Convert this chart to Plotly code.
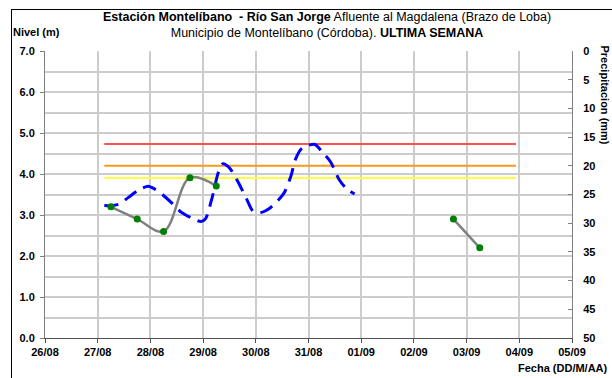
import plotly.graph_objects as go

# ---- data ----
obs_time = ["2023-08-27 06:00", "2023-08-27 18:00", "2023-08-28 06:00", "2023-08-28 18:00",
            "2023-08-29 06:00", "2023-08-31 00:00", "2023-09-02 18:00", "2023-09-03 06:00"]
obs_level = [3.20, 2.90, 2.60, 3.91, 3.71, None, 2.90, 2.20]

sensor_time = ["2023-08-27 03:00", "2023-08-27 06:00", "2023-08-27 10:00", "2023-08-27 14:00",
               "2023-08-27 19:00", "2023-08-27 23:00", "2023-08-28 01:00", "2023-08-28 05:00",
               "2023-08-28 10:00", "2023-08-28 14:00", "2023-08-28 19:00", "2023-08-28 23:00",
               "2023-08-29 01:00", "2023-08-29 04:00", "2023-08-29 07:00", "2023-08-29 09:00",
               "2023-08-29 12:00", "2023-08-29 16:00", "2023-08-29 20:00", "2023-08-29 23:00",
               "2023-08-30 03:00", "2023-08-30 06:00", "2023-08-30 10:00", "2023-08-30 13:00",
               "2023-08-30 16:00", "2023-08-30 18:00", "2023-08-30 21:00", "2023-08-31 00:00",
               "2023-08-31 03:00", "2023-08-31 06:00", "2023-08-31 10:00", "2023-08-31 14:00",
               "2023-08-31 17:00", "2023-08-31 21:00"]
sensor_level = [3.23, 3.23, 3.27, 3.43, 3.62, 3.70, 3.66, 3.52,
                3.28, 3.07, 2.92, 2.84, 2.90, 3.40, 4.05, 4.25,
                4.15, 3.80, 3.37, 3.08, 3.07, 3.15, 3.35, 3.55,
                3.95, 4.35, 4.63, 4.70, 4.72, 4.55, 4.30, 3.86,
                3.66, 3.51]

threshold_time = ["2023-08-27 03:00", "2023-09-03 22:30"]
threshold_red = 4.73
threshold_orange = 4.20
threshold_yellow = 3.90

x_range = ["2023-08-26", "2023-09-05"]
level_range = [0, 7]
precip_range = [50, 0]

# ---- layout geometry (px) ----
W, H = 612, 378
L, R, T, B = 45, 40, 51, 40
pw, ph = W - L - R, H - T - B

def px2x(px):
    return (px - L) / pw

def py2y(py):
    return (H - B - py) / ph

FONT = "Liberation Sans, Arial, sans-serif"

fig = go.Figure()

for val, col in [(threshold_red, "#FF5050"), (threshold_orange, "#F79A1E"), (threshold_yellow, "#FFFF40")]:
    fig.add_trace(go.Scatter(x=threshold_time, y=[val, val], mode="lines",
                             line=dict(color=col, width=2), showlegend=False, hoverinfo="skip"))

fig.add_trace(go.Scatter(x=sensor_time, y=sensor_level, mode="lines",
                         line=dict(color="#0000FF", width=3, dash="14px,8px", shape="spline", smoothing=0.8),
                         showlegend=False))

fig.add_trace(go.Scatter(x=obs_time, y=obs_level, mode="lines+markers", connectgaps=False,
                         line=dict(color="#808080", width=2.5, shape="spline", smoothing=1),
                         marker=dict(color="#008000", size=7),
                         showlegend=False))

fig.add_trace(go.Scatter(x=[None], y=[None], yaxis="y2", showlegend=False, hoverinfo="skip"))

tickfont = dict(family=FONT, size=11, color="#000000", weight="bold")

fig.update_layout(
    width=W, height=H,
    margin=dict(l=L, r=R, t=T, b=B, autoexpand=False),
    paper_bgcolor="white", plot_bgcolor="white",
    font=dict(family=FONT, size=11, color="black"),
    xaxis=dict(type="date", range=x_range, dtick=86400000, tickformat="%d/%m",
               showgrid=True, gridcolor="#cccccc", gridwidth=1.5,
               showline=True, linecolor="#505050", linewidth=1,
               ticks="outside", ticklen=4, tickcolor="#505050",
               tickfont=tickfont, zeroline=False, automargin=False),
    yaxis=dict(range=level_range, dtick=1, tickformat=".1f",
               showgrid=True, gridcolor="#cccccc", gridwidth=1.5,
               minor=dict(dtick=0.5, showgrid=True, gridcolor="#cccccc", gridwidth=1.5),
               showline=True, linecolor="#808080", linewidth=1,
               ticks="outside", ticklen=4, tickcolor="#808080",
               tickfont=tickfont, zeroline=False, automargin=False, ticklabelstandoff=3),
    yaxis2=dict(range=precip_range, dtick=5, overlaying="y", side="right",
                showgrid=False, zeroline=False,
                showline=True, linecolor="#808080", linewidth=1,
                ticks="inside", ticklen=4, tickcolor="#808080",
                tickfont=tickfont, ticklabelstandoff=8, automargin=False),
)

fig.add_annotation(xref="paper", yref="paper", x=px2x(327), y=py2y(25),
                   xanchor="center", yanchor="middle", showarrow=False, align="center",
                   text="<b>Estación Montelíbano  - Río San Jorge</b> Afluente al Magdalena (Brazo de Loba)<br>"
                        "Municipio de Montelíbano (Córdoba). <b>ULTIMA SEMANA</b>",
                   font=dict(family=FONT, size=12.5, color="black"))

fig.add_annotation(xref="paper", yref="paper", x=px2x(11), y=py2y(32),
                   xanchor="left", yanchor="middle", showarrow=False,
                   text="<b>Nivel (m)</b>", font=dict(family=FONT, size=11, color="black"))

fig.add_annotation(xref="paper", yref="paper", x=px2x(605), y=py2y(43),
                   xanchor="center", yanchor="top", showarrow=False, textangle=90,
                   text="<b>Precipitacion (mm)</b>", font=dict(family=FONT, size=11, color="black"))

fig.add_annotation(xref="paper", yref="paper", x=px2x(516), y=py2y(368),
                   xanchor="left", yanchor="middle", showarrow=False,
                   text="<b>Fecha (DD/M/AA)</b>", font=dict(family=FONT, size=11, color="black"))

# outer frame: an empty bordered box whose top-left corner sits at (11, 9) px
fig.add_annotation(xref="paper", yref="paper", x=px2x(11), y=py2y(9),
                   xanchor="left", yanchor="top", showarrow=False,
                   text=" ", width=700, height=420, borderpad=0,
                   bordercolor="black", borderwidth=1)

fig.write_html("out.html", config={"displayModeBar": False},
               post_script="document.body.style.margin='0';document.body.style.overflow='hidden';")
